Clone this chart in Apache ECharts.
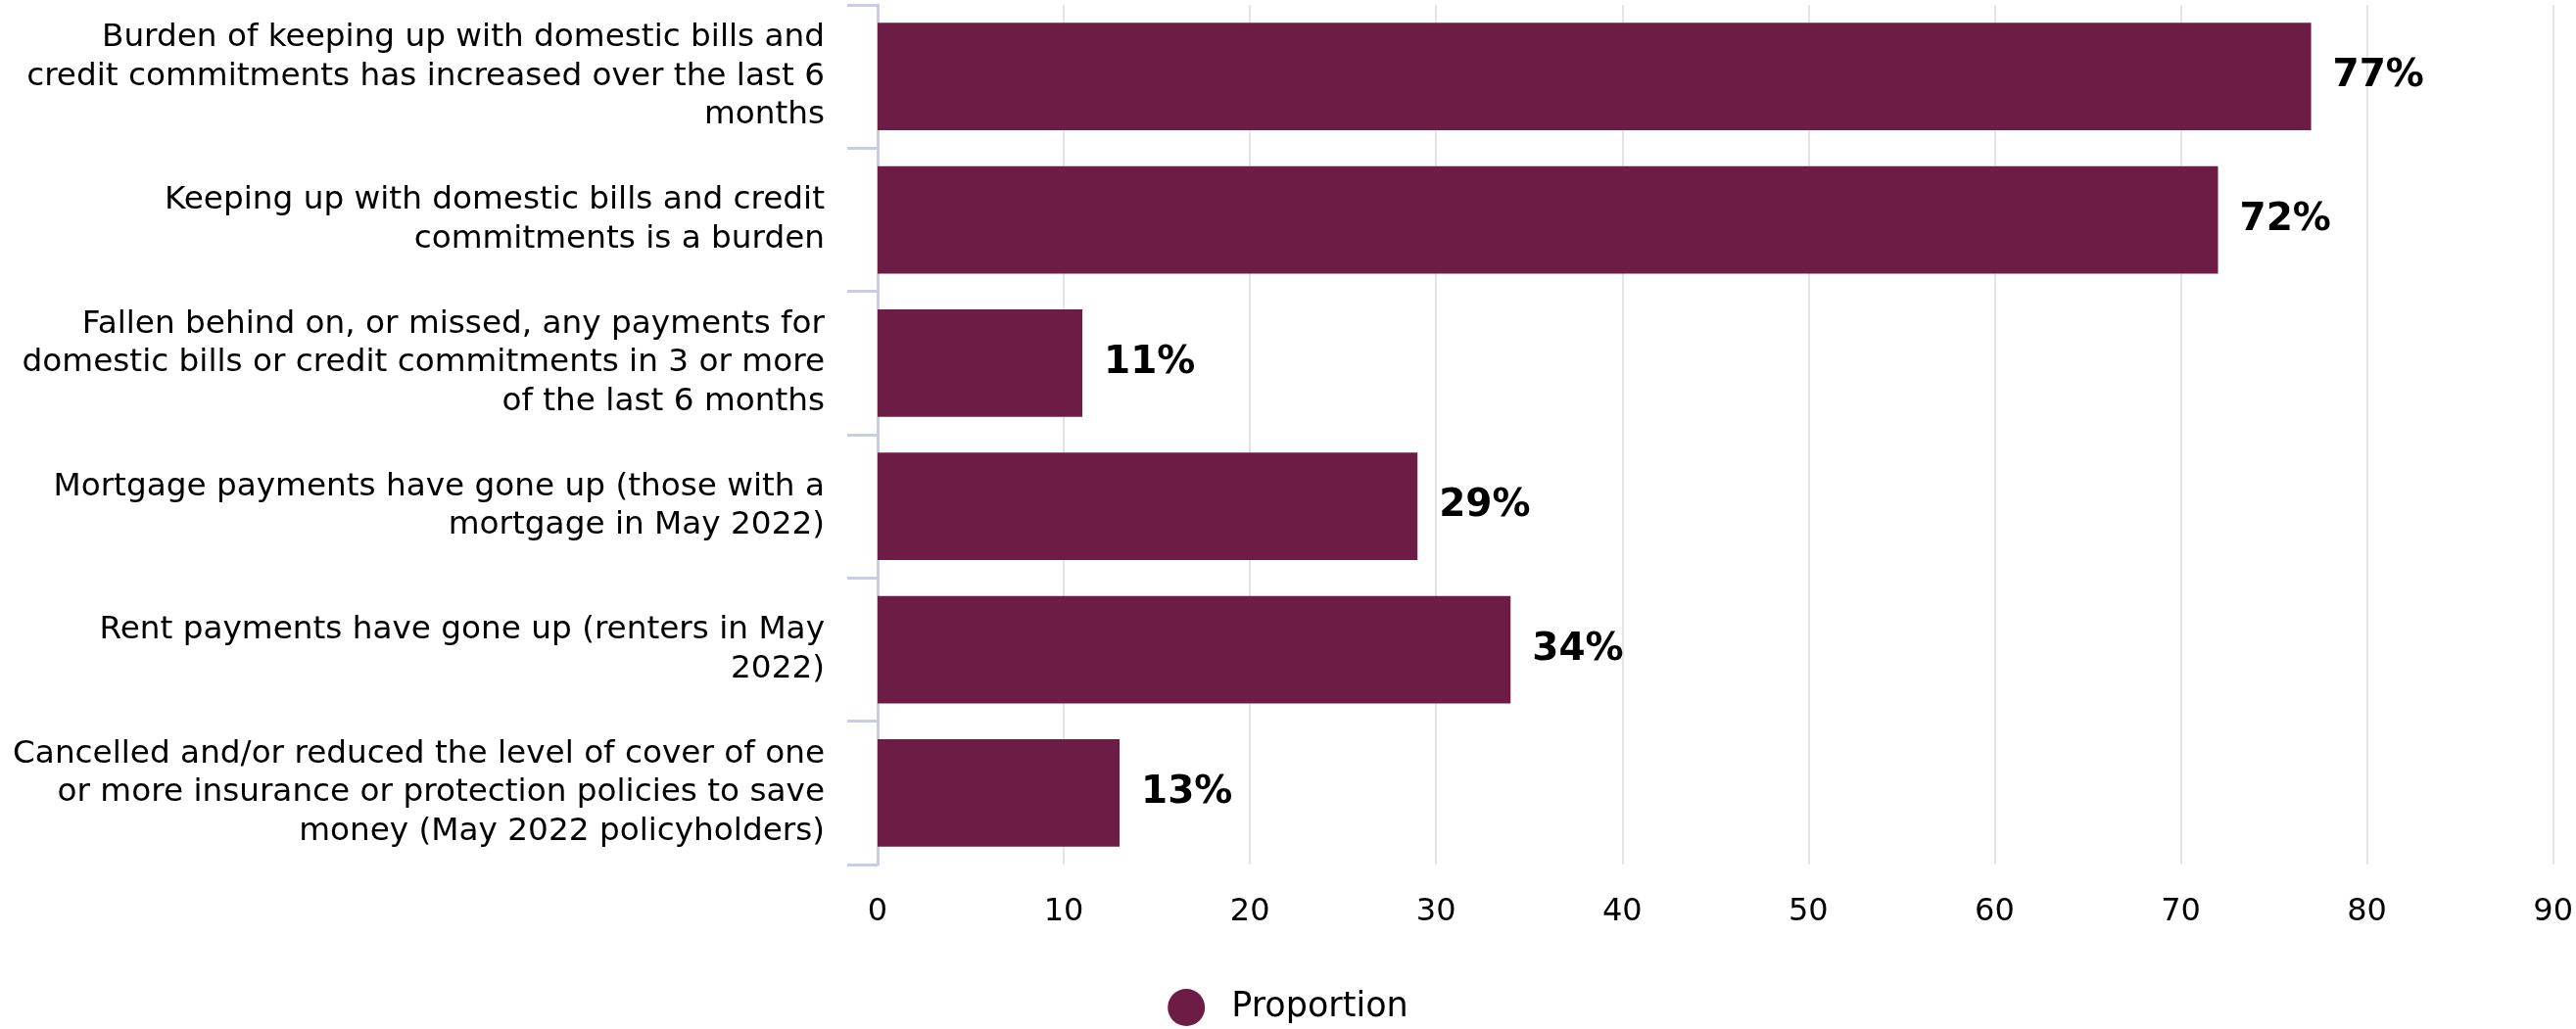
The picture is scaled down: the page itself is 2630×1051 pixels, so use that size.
<!DOCTYPE html>
<html>
<head>
<meta charset="utf-8">
<title>Household bills and credit commitments</title>
<script src="https://cdn.jsdelivr.net/npm/echarts@6/dist/echarts.min.js"></script>
<style>
  html, body { margin: 0; padding: 0; background: #ffffff; }
  #chart { width: 2630px; height: 1051px; }
</style>
</head>
<body>
<div id="chart"></div>
<script>
// Survey statements, top to bottom
const categories = [
  'Burden of keeping up with domestic bills and\ncredit commitments has increased over the last 6\nmonths',
  'Keeping up with domestic bills and credit\ncommitments is a burden',
  'Fallen behind on, or missed, any payments for\ndomestic bills or credit commitments in 3 or more\nof the last 6 months',
  'Mortgage payments have gone up (those with a\nmortgage in May 2022)',
  'Rent payments have gone up (renters in May\n2022)',
  'Cancelled and/or reduced the level of cover of one\nor more insurance or protection policies to save\nmoney (May 2022 policyholders)'
];

// Share of respondents, in percent
const proportion = [77, 72, 11, 29, 34, 13];

const seriesName = 'Proportion';
const axisMin = 0;
const axisMax = 90;
const axisStep = 10;

const FONT = '"DejaVu Sans", Verdana, sans-serif';
const BAR_COLOR = '#6c1c45';

const chart = echarts.init(document.getElementById('chart'), null, { renderer: 'canvas' });

chart.setOption({
  animation: false,
  backgroundColor: '#ffffff',
  textStyle: { fontFamily: FONT },
  grid: { left: 896, right: 5, top: 5, bottom: 168, containLabel: false },
  legend: {
    data: [seriesName],
    left: 'center',
    top: 1005,
    icon: 'circle',
    itemWidth: 38,
    itemHeight: 38,
    textStyle: { fontFamily: FONT, fontSize: 35, color: '#000000', padding: [0, 0, 0, 22] }
  },
  xAxis: {
    type: 'value',
    min: axisMin,
    max: axisMax,
    interval: axisStep,
    axisLine: { show: false },
    axisTick: { show: false },
    axisLabel: { fontFamily: FONT, fontSize: 32, color: '#000000', margin: 33 },
    splitLine: { show: true, lineStyle: { color: '#e4e4e4', width: 2 } }
  },
  yAxis: {
    type: 'category',
    data: categories,
    inverse: true,
    axisLine: { show: true, lineStyle: { color: '#c8cce6', width: 3 } },
    axisTick: { show: true, length: 31, lineStyle: { color: '#c8cce6', width: 3 } },
    axisLabel: {
      fontFamily: FONT, fontSize: 32.7, lineHeight: 39.5, color: '#000000',
      margin: 54, align: 'right'
    },
    splitLine: { show: false }
  },
  series: [{
    name: seriesName,
    type: 'bar',
    data: proportion,
    barCategoryGap: '25%',
    itemStyle: { color: BAR_COLOR },
    label: {
      show: true,
      position: 'right',
      distance: 22,
      formatter: '{c}%',
      fontFamily: FONT,
      fontSize: 39,
      fontWeight: 'bold',
      color: '#000000'
    }
  }]
});
</script>
</body>
</html>
